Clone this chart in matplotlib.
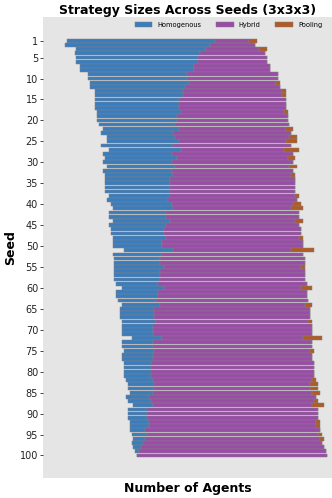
import numpy as np
import matplotlib
matplotlib.use("Agg")
import matplotlib.pyplot as plt

# --- data: agents per strategy for each seed ---
seeds = list(range(1, 101))

homogenous = [39, 38, 34, 33, 32, 32, 30, 30, 26, 26,
              26, 25, 23, 23, 22, 22, 22, 22, 21, 21,
              20, 20, 19, 18, 19, 19, 19, 18, 19, 18,
              18, 18, 18, 17, 17, 17, 17, 16, 16, 16,
              16, 15, 15, 15, 15, 14, 14, 14, 13, 13,
              13, 13, 12, 12, 13, 12, 12, 12, 11, 11,
              11, 11, 10, 10, 9, 9, 9, 9, 8, 8,
              8, 8, 8, 8, 8, 8, 8, 7, 7, 7,
              7, 7, 7, 7, 6, 6, 6, 5, 5, 5,
              5, 5, 5, 4, 4, 3, 3, 2, 1, 0]

hybrid = [9, 12, 14, 17, 18, 18, 20, 20, 24, 24,
          23, 25, 26, 26, 28, 28, 28, 27, 29, 29,
          30, 28, 31, 30, 28, 31, 27, 32, 29, 32,
          30, 32, 31, 33, 33, 33, 33, 33, 34, 32,
          31, 35, 35, 33, 35, 36, 36, 35, 37, 37,
          31, 37, 38, 38, 36, 38, 38, 38, 39, 36,
          39, 39, 40, 38, 41, 41, 41, 40, 42, 42,
          42, 37, 42, 42, 41, 42, 42, 43, 43, 43,
          43, 42, 41, 41, 42, 44, 43, 42, 45, 45,
          45, 44, 44, 46, 45, 46, 47, 48, 49, 50]

pooling = [2, 0, 2, 0, 0, 0, 0, 0, 0, 0,
           1, 0, 1, 1, 0, 0, 0, 1, 0, 0,
           0, 2, 0, 2, 3, 0, 4, 0, 2, 0,
           2, 0, 1, 0, 0, 0, 0, 1, 0, 2,
           3, 0, 0, 2, 0, 0, 0, 1, 0, 0,
           6, 0, 0, 0, 1, 0, 0, 0, 0, 3,
           0, 0, 0, 2, 0, 0, 0, 1, 0, 0,
           0, 5, 0, 0, 1, 0, 0, 0, 0, 0,
           0, 1, 2, 2, 2, 0, 1, 3, 0, 0,
           0, 1, 1, 0, 1, 1, 0, 0, 0, 0]

tick_seeds = [1] + list(range(5, 101, 5))

# --- layout: bars centred on the middle of the Hybrid segment ---
homogenous = np.array(homogenous)
hybrid = np.array(hybrid)
pooling = np.array(pooling)
y = np.array(seeds)

fig = plt.figure(figsize=(3.32, 4.98), dpi=100)
ax = fig.add_axes([0.1295, 0.040, 0.8705, 0.926])
ax.set_facecolor("#e5e5e5")

bar_kw = dict(height=0.9, edgecolor="grey", linewidth=0.35)
ax.barh(y, homogenous, left=-(homogenous + hybrid / 2), color="#3a7dbf",
        label="Homogenous", **bar_kw)
ax.barh(y, hybrid, left=-hybrid / 2, color="#9b4ca8", label="Hybrid", **bar_kw)
ax.barh(y, pooling, left=hybrid / 2, color="#b05a24", label="Pooling", **bar_kw)

ax.set_xlim(-49.8, 26.2)
ax.set_ylim(105.4, -4.7)
ax.set_xticks([])
ax.set_yticks(tick_seeds)
ax.tick_params(axis="y", labelsize=7, length=2, width=0.6, pad=1.5, colors="#222222")
for s in ax.spines.values():
    s.set_visible(False)

ax.set_title("Strategy Sizes Across Seeds (3x3x3)", fontsize=9, fontweight="bold", pad=2)
ax.set_xlabel("Number of Agents", fontsize=9, fontweight="bold", labelpad=3)
ax.set_ylabel("Seed", fontsize=9, fontweight="bold", labelpad=2)

ax.legend(loc="upper right", ncol=3, frameon=False, fontsize=4.8,
          handlelength=2.6, handleheight=0.8, columnspacing=2.2,
          borderaxespad=0.4, bbox_to_anchor=(0.985, 1.0))

fig.savefig("out.png", dpi=100)
